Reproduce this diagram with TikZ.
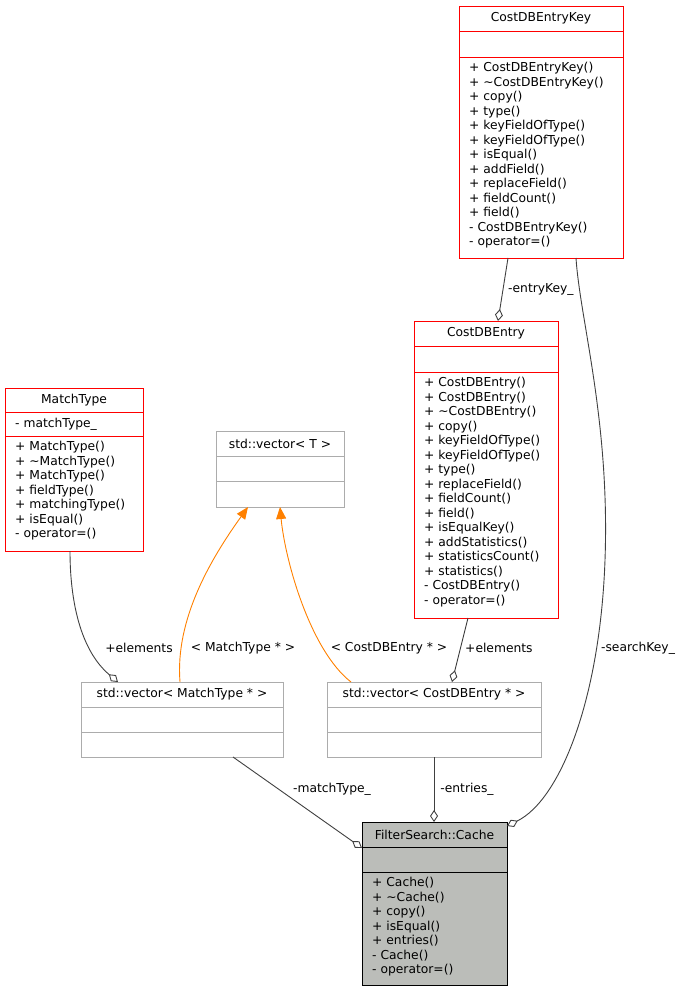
\documentclass[tikz,border=0pt]{standalone}
\usepackage{fontspec}
\setmainfont{DejaVu Sans}
\usetikzlibrary{arrows.meta,calc}
\definecolor{cachefill}{HTML}{BBBDB9}
\definecolor{edgeg}{HTML}{404040}
\newcommand{\tld}{\symbol{126}}
\tikzset{
  cls/.style={draw=#1,anchor=north west,inner sep=0pt,fill=white,line width=0.9pt},
  txt/.style={anchor=north west,inner sep=0pt,align=left,font=\fontsize{12.3}{14.5}\selectfont},
  ttl/.style={inner sep=0pt,font=\fontsize{12.3}{14}\selectfont},
  agg/.style={draw=edgeg,line width=0.9pt,{Diamond[open,length=12pt,width=8pt]}-},
  gen/.style={draw=orange,line width=0.9pt,-{Triangle[length=12pt,width=10pt,fill=orange]}},
  lbl/.style={inner sep=1pt,font=\fontsize{12.3}{14}\selectfont,fill=white}
}
\newcommand{\umlbox}[9]{%
  \node[cls=#8,fill=#9,minimum width=#4pt-#2pt,minimum height=#5pt-#3pt] (#1) at (#2,#3) {};
  \draw[#8,line width=0.9pt] (#2,#6) -- (#4,#6) (#2,#7) -- (#4,#7);}
\begin{document}
\begin{tikzpicture}[x=1pt,y=-1pt]
\useasboundingbox (0,0) rectangle (684,992);
\umlbox{key}{459}{6}{623}{258}{31}{57}{red}{white}
\node[ttl] (keyt) at (541,18.5) {CostDBEntryKey};
\node[txt] (keym) at (469,62) {+ CostDBEntryKey()\\+ \tld CostDBEntryKey()\\+ copy()\\+ type()\\+ keyFieldOfType()\\+ keyFieldOfType()\\+ isEqual()\\+ addField()\\+ replaceField()\\+ fieldCount()\\+ field()\\- CostDBEntryKey()\\- operator=()};

\umlbox{entry}{414}{321}{558}{618}{346}{372}{red}{white}
\node[ttl] (entryt) at (486,333.5) {CostDBEntry};
\node[txt] (entrym) at (424,377) {+ CostDBEntry()\\+ CostDBEntry()\\+ \tld CostDBEntry()\\+ copy()\\+ keyFieldOfType()\\+ keyFieldOfType()\\+ type()\\+ replaceField()\\+ fieldCount()\\+ field()\\+ isEqualKey()\\+ addStatistics()\\+ statisticsCount()\\+ statistics()\\- CostDBEntry()\\- operator=()};

\umlbox{mt}{5}{388}{143}{551}{412}{436}{red}{white}
\node[ttl] (mtt) at (74,400) {MatchType};
\node[txt] (mta) at (15,418) {- matchType\_};
\node[txt] (mtm) at (15,441) {+ MatchType()\\+ \tld MatchType()\\+ MatchType()\\+ fieldType()\\+ matchingType()\\+ isEqual()\\- operator=()};

\umlbox{vt}{216}{431}{344}{507}{456}{481}{lightgray!70!gray}{white}
\node[ttl] (vtt) at (280,443.5) {std::vector< T >};

\umlbox{vm}{81}{682}{283}{757}{707}{732}{lightgray!70!gray}{white}
\node[ttl] (vmt) at (182,694.5) {std::vector< MatchType * >};

\umlbox{ve}{327}{682}{541}{757}{707}{732}{lightgray!70!gray}{white}
\node[ttl] (vet) at (434,694.5) {std::vector< CostDBEntry * >};

\umlbox{cache}{362}{822}{507}{985}{847}{872}{black}{cachefill}
\node[ttl] (cachet) at (434.5,834.5) {FilterSearch::Cache};
\node[txt] (cachem) at (372,877) {+ Cache()\\+ \tld Cache()\\+ copy()\\+ isEqual()\\+ entries()\\- Cache()\\- operator=()};

\draw[agg] (498,321) -- (508,258);
\node[lbl,anchor=west] (l1) at (507,289) {-entryKey\_};
\draw[agg] (507,826) .. controls (560,800) and (600,700) .. (605,560) .. controls (610,420) and (580,320) .. (576,258);
\node[lbl] (l2) at (638,648) {-searchKey\_};
\draw[agg] (452,682) -- (468,618);
\node[lbl,anchor=west] (l3) at (464,648) {+elements};
\draw[agg] (118,682) .. controls (80,650) and (70,600) .. (70,551);
\node[lbl] (l4) at (139,648) {+elements};
\draw[gen] (180,682) .. controls (175,620) and (210,560) .. (248,507);
\node[lbl] (l5) at (243,648) {< MatchType * >};
\draw[gen] (351,682) .. controls (310,650) and (285,560) .. (280,507);
\node[lbl] (l6) at (389,648) {< CostDBEntry * >};
\draw[agg] (362,848) -- (233,757);
\node[lbl] (l7) at (332,789) {-matchType\_};
\draw[agg] (434,822) -- (434,757);
\node[lbl] (l8) at (467,789) {-entries\_};
\end{tikzpicture}
\end{document}
